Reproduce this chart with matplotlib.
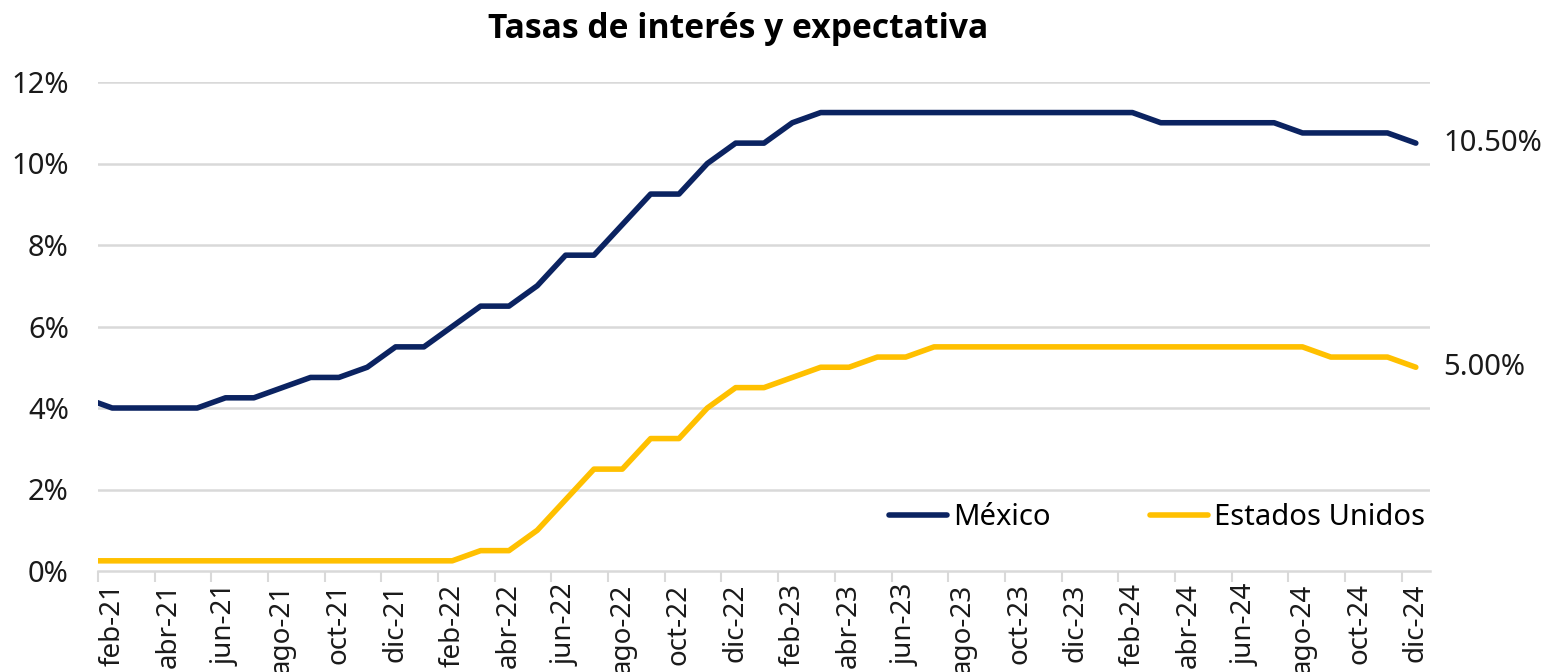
import matplotlib
matplotlib.use("Agg")
import matplotlib.pyplot as plt
import numpy as np

months_es = ["ene", "feb", "mar", "abr", "may", "jun", "jul", "ago", "sep", "oct", "nov", "dic"]
years = ["21", "22", "23", "24"]
categories = [f"{m}-{y}" for y in years for m in months_es]

mexico = [4.25, 4.00, 4.00, 4.00, 4.00, 4.25, 4.25, 4.50, 4.75, 4.75, 5.00, 5.50,
          5.50, 6.00, 6.50, 6.50, 7.00, 7.75, 7.75, 8.50, 9.25, 9.25, 10.00, 10.50,
          10.50, 11.00, 11.25, 11.25, 11.25, 11.25, 11.25, 11.25, 11.25, 11.25, 11.25, 11.25,
          11.25, 11.25, 11.00, 11.00, 11.00, 11.00, 11.00, 10.75, 10.75, 10.75, 10.75, 10.50]
usa = [0.25, 0.25, 0.25, 0.25, 0.25, 0.25, 0.25, 0.25, 0.25, 0.25, 0.25, 0.25,
       0.25, 0.25, 0.50, 0.50, 1.00, 1.75, 2.50, 2.50, 3.25, 3.25, 4.00, 4.50,
       4.50, 4.75, 5.00, 5.00, 5.25, 5.25, 5.50, 5.50, 5.50, 5.50, 5.50, 5.50,
       5.50, 5.50, 5.50, 5.50, 5.50, 5.50, 5.50, 5.50, 5.25, 5.25, 5.25, 5.00]
y_ticks = [0, 2, 4, 6, 8, 10, 12]

plt.rcParams['font.family'] = ['Noto Sans', 'DejaVu Sans']

fig = plt.figure(figsize=(15.47, 6.72), dpi=100)
ax = fig.add_axes([98/1547, 1-571/672, (1430-98)/1547, (571-82)/672])

x = np.arange(len(categories))
navy = "#0B2361"
gold = "#FFC000"
ax.plot(x, mexico, color=navy, lw=4.0, solid_capstyle='round', label="México", zorder=3)
ax.plot(x, usa, color=gold, lw=4.0, solid_capstyle='round', label="Estados Unidos", zorder=3)

ax.set_xlim(0.5, len(categories) - 0.5)
ax.set_ylim(0, 12)

ax.set_yticks(y_ticks)
ax.set_yticklabels([f"{v}%" for v in y_ticks], fontsize=21, color="#1a1a1a")
ax.tick_params(axis='y', length=0, pad=21)

lab_idx = list(range(1, len(categories), 2))
ax.set_xticks(lab_idx)
ax.set_xticklabels([categories[i] for i in lab_idx], rotation=90, fontsize=20, color="#1a1a1a")
ax.set_xticks(np.arange(0.5, len(categories) - 1, 2), minor=True)
ax.tick_params(axis='x', which='major', length=0, pad=9)
ax.tick_params(axis='x', which='minor', length=8, width=1.5, color="#D9D9D9", direction='out')

for v in y_ticks[1:]:
    ax.axhline(v, color="#D9D9D9", lw=1.8, zorder=1)

for s in ["top", "right", "left"]:
    ax.spines[s].set_visible(False)
ax.spines["bottom"].set_color("#D9D9D9")
ax.spines["bottom"].set_linewidth(1.8)

for series in (mexico, usa):
    ax.annotate(f"{series[-1]:.2f}%", xy=(x[-1], series[-1]), xytext=(20, 0),
                textcoords='offset points', va='center', ha='left', fontsize=21,
                color="#1a1a1a", annotation_clip=False)

leg = ax.legend(loc='lower right', bbox_to_anchor=(1.005, 0.055), ncol=2, frameon=False,
                fontsize=21, handlelength=2.0, handletextpad=0.2, columnspacing=3.4,
                borderaxespad=0)

fig.suptitle("Tasas de interés y expectativa", fontsize=24.2, fontweight='bold',
             family=['Open Sans', 'DejaVu Sans'], x=0.477, y=0.982)

fig.savefig("out.png", dpi=100)
